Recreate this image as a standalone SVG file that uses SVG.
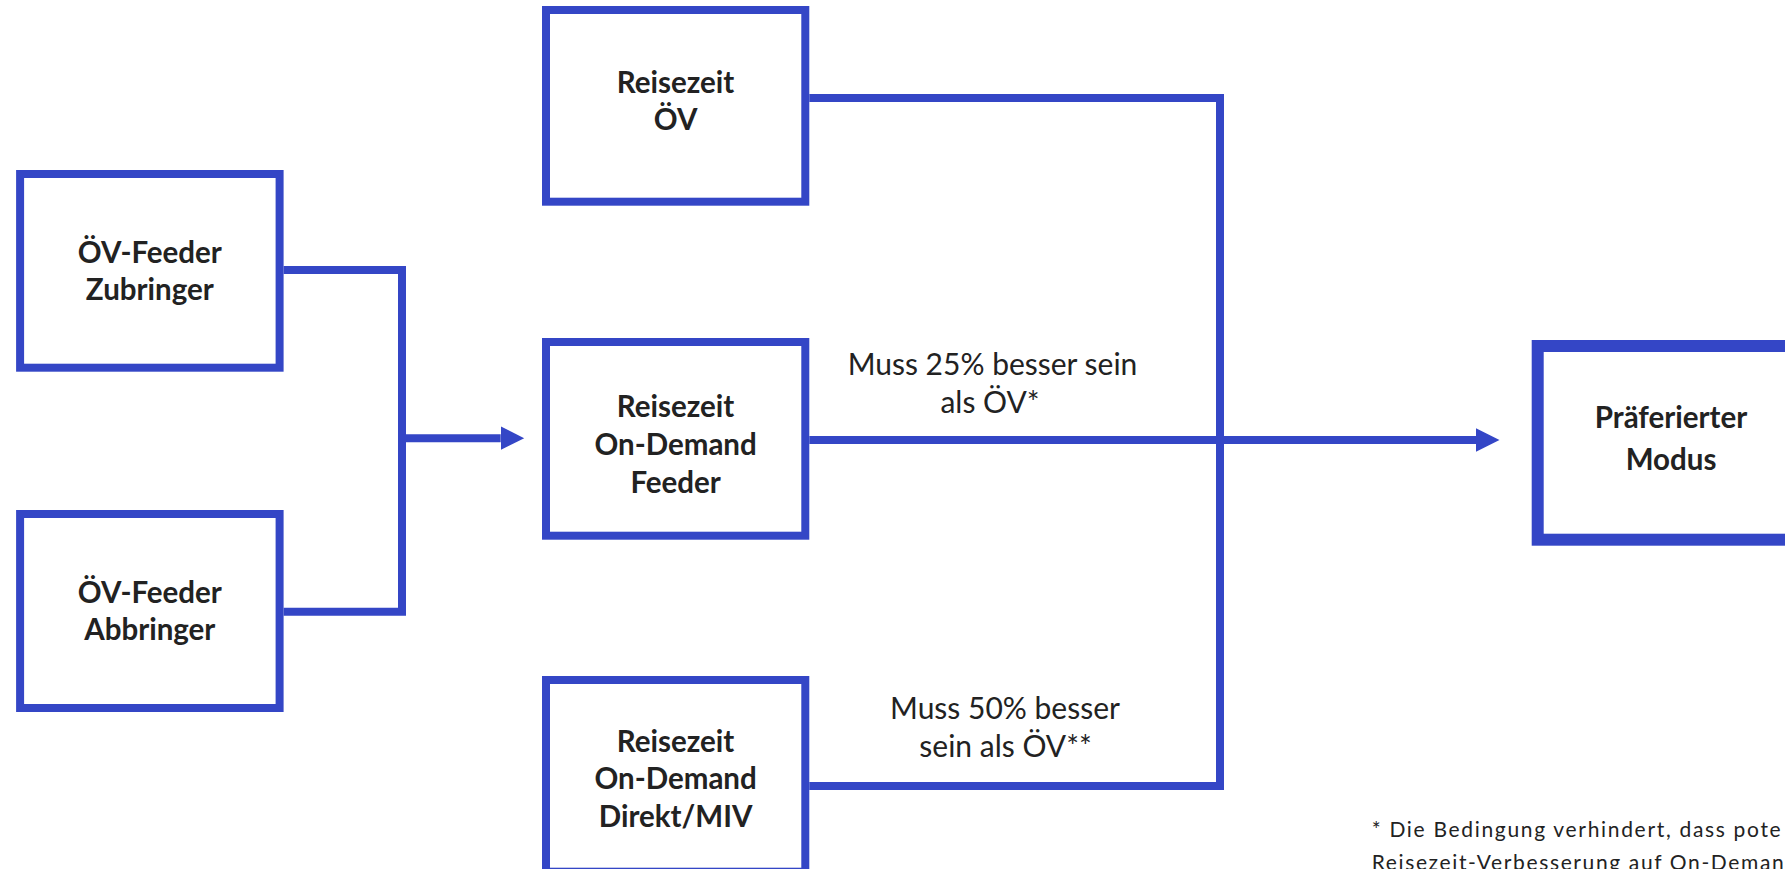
<svg xmlns="http://www.w3.org/2000/svg" width="1785" height="869" viewBox="0 0 1785 869">
<style>
  .box { fill: #ffffff; stroke: #3446c6; stroke-width: 8; }
  .box.thick { stroke-width: 12; }
  .conn { fill: none; stroke: #3446c6; stroke-width: 8; stroke-linejoin: miter; stroke-linecap: butt; }
  .t { font-family: Lato, "Open Sans", "Liberation Sans", sans-serif; font-weight: 700; font-size: 29.5px; fill: #222222; text-anchor: middle; }
  .lbl { font-family: Lato, "Open Sans", "Liberation Sans", sans-serif; font-weight: 400; font-size: 30px; fill: #222222; text-anchor: middle; }
  .note { font-family: Lato, "Open Sans", "Liberation Sans", sans-serif; font-weight: 400; font-size: 21px; fill: #222222; }
</style>
<defs>
  <marker id="arrow" markerUnits="userSpaceOnUse" markerWidth="26" markerHeight="26" viewBox="0 -13 26 26" refX="0" refY="0" orient="auto">
    <path d="M0,-11.8 L23.5,0 L0,11.8 Z" fill="#3446c6"/>
  </marker>
</defs>
<rect width="1785" height="869" fill="#ffffff"/>

<g id="connectors">
  <path class="conn" d="M283.6,270 H402 V611.7 H283.6"/>
  <path class="conn" d="M402,438.2 H500.7" marker-end="url(#arrow)"/>
  <path class="conn" d="M809.3,98 H1220 V786 H809.3"/>
  <path class="conn" d="M809.3,440 H1476" marker-end="url(#arrow)"/>
</g>

<g id="node-reisezeit-oev">
  <rect class="box" x="546" y="10" width="259.3" height="191.7"/>
  <text class="t" x="675.6" y="93.3">Reisezeit</text>
  <text class="t" x="675.6" y="130">ÖV</text>
</g>

<g id="node-zubringer">
  <rect class="box" x="20.1" y="174" width="259.5" height="193.7"/>
  <text class="t" x="149.8" y="263.3">ÖV-Feeder</text>
  <text class="t" x="149.8" y="300">Zubringer</text>
</g>

<g id="node-abbringer">
  <rect class="box" x="20.1" y="514" width="259.5" height="194"/>
  <text class="t" x="149.8" y="602.7">ÖV-Feeder</text>
  <text class="t" x="149.8" y="640">Abbringer</text>
</g>

<g id="node-reisezeit-feeder">
  <rect class="box" x="546" y="342" width="259.3" height="193.7"/>
  <text class="t" x="675.6" y="416.7">Reisezeit</text>
  <text class="t" x="675.6" y="455">On-Demand</text>
  <text class="t" x="675.6" y="492.7">Feeder</text>
</g>

<g id="node-reisezeit-direkt">
  <rect class="box" x="546" y="680" width="259.3" height="191.7"/>
  <text class="t" x="675.6" y="751.7">Reisezeit</text>
  <text class="t" x="675.6" y="789.3">On-Demand</text>
  <text class="t" x="675.6" y="827.3">Direkt/MIV</text>
</g>

<g id="node-praeferierter-modus">
  <rect class="box thick" x="1537.7" y="346" width="265" height="193.7"/>
  <text class="t" x="1671" y="428">Präferierter</text>
  <text class="t" x="1671" y="469.5">Modus</text>
</g>

<g id="labels">
  <text class="lbl" x="992.5" y="375">Muss 25% besser sein</text>
  <text class="lbl" x="990" y="412.7">als ÖV*</text>
  <text class="lbl" x="1005" y="719.3">Muss 50% besser</text>
  <text class="lbl" x="1005.5" y="756.7">sein als ÖV**</text>
</g>

<g id="footnote">
  <text class="note" x="1371.7" y="837.3" textLength="409" lengthAdjust="spacing">* Die Bedingung verhindert, dass pote</text>
  <text class="note" x="1371.7" y="869.6" textLength="412" lengthAdjust="spacing">Reisezeit-Verbesserung auf On-Deman</text>
</g>
</svg>
